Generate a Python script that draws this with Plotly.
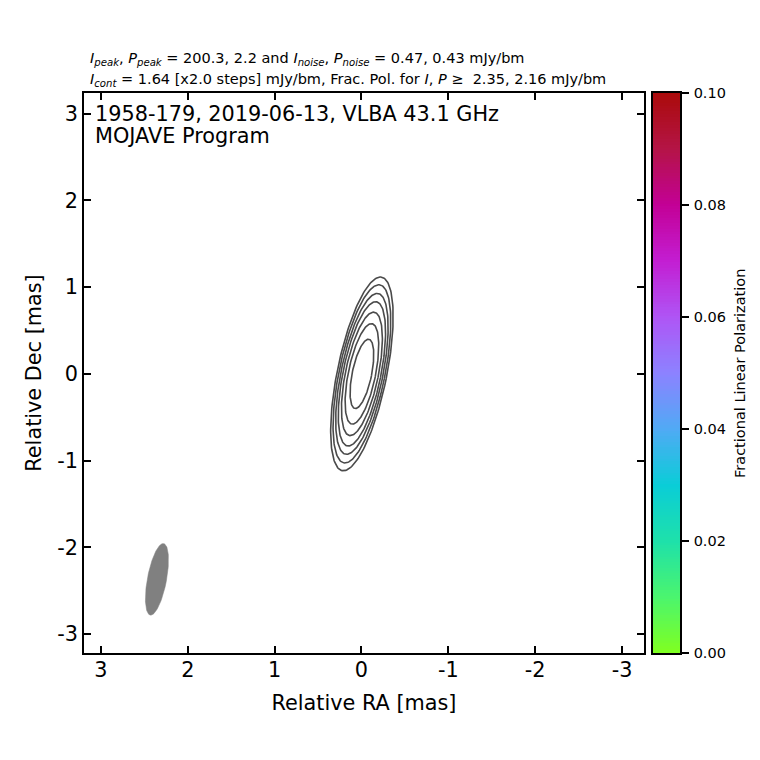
import numpy as np
import plotly.graph_objects as go

# contour half-heights and half-widths [mas], outer to inner
contour_half_heights = [1.119, 1.029, 0.929, 0.833, 0.713, 0.580, 0.400]
contour_minor_axes = [0.285, 0.264, 0.241, 0.218, 0.190, 0.157, 0.112]
contour_center = [-0.005, 0.0]
major_to_height = 1.018
contour_angle = 11.5

# restoring beam
beam_center = [2.355, -2.37]
beam_major = 0.42
beam_minor = 0.11
beam_angle = 10.6

tick_vals = [3, 2, 1, 0, -1, -2, -3]
tick_text = ['3', '2', '1', '0', '-1', '-2', '-3']
cbar_ticks = [0.0, 0.02, 0.04, 0.06, 0.08, 0.10]

cmap_stops = [0.0, 0.1, 0.2, 0.3, 0.4, 0.5, 0.6, 0.7, 0.8, 0.9, 1.0]
cmap_colors = ['#80ff20', '#4bf56e', '#1ee1aa', '#0acdd7', '#50aaf5', '#8c82ff',
               '#af55f5', '#c31ed2', '#c30096', '#b41446', '#aa0a0a']

header_1 = ('<i>I<sub>peak</sub></i>, <i>P<sub>peak</sub></i> = 200.3, 2.2 and '
            '<i>I<sub>noise</sub></i>, <i>P<sub>noise</sub></i> = 0.47, 0.43 mJy/bm')
header_2 = ('<i>I<sub>cont</sub></i> = 1.64 [x2.0 steps] mJy/bm, Frac. Pol. for '
            '<i>I</i>, <i>P</i> \u2265\u00a0 2.35, 2.16 mJy/bm')
source_lines = ['1958-179, 2019-06-13, VLBA 43.1 GHz', 'MOJAVE Program']
cbar_title = 'Fractional Linear Polarization'

FONT = 'DejaVu Sans'
BIG = 20.8
SMALL = 14.5

# pixel layout: plot area is 624 wide, starts at the main frame's left edge
AREA_W = 624.0
MAIN_W = 560.0


def ellipse(center, major, minor, angle):
    # angle measured from north, towards +RA being the plot's right side
    t = np.linspace(0, 2 * np.pi, 181)
    a = np.radians(angle)
    u = minor * np.cos(t)
    v = major * np.sin(t)
    x = center[0] - (u * np.cos(a) + v * np.sin(a))
    y = center[1] + (v * np.cos(a) - u * np.sin(a))
    return x, y


fig = go.Figure()

for h, minor in zip(contour_half_heights, contour_minor_axes):
    x, y = ellipse(contour_center, h * major_to_height, minor, contour_angle)
    fig.add_trace(go.Scatter(x=x, y=y, mode='lines', showlegend=False,
                             line=dict(color='#4a4a4a', width=1.6)))

bx, by = ellipse(beam_center, beam_major, beam_minor, beam_angle)
fig.add_trace(go.Scatter(x=bx, y=by, mode='lines', fill='toself', fillcolor='#808080',
                         line=dict(color='#808080', width=0.5), showlegend=False))

# colour ramp on its own axes, ticks and frame like the main panel
ramp = np.linspace(0, 0.1, 201)
fig.add_trace(go.Heatmap(x=[0, 1], y=ramp, z=np.column_stack([ramp, ramp]), xaxis='x2', yaxis='y2',
                         zmin=0, zmax=0.1, showscale=False, hoverinfo='skip',
                         colorscale=[[s, c] for s, c in zip(cmap_stops, cmap_colors)]))

axis_style = dict(tickvals=tick_vals, ticktext=tick_text, ticks='inside', ticklen=7, tickwidth=1.5,
                  tickcolor='black', showline=True, linecolor='black', linewidth=1.5, mirror='allticks',
                  showgrid=False, zeroline=False, tickfont=dict(family=FONT, size=BIG, color='black'))

annotations = [
    dict(text=header_1, xref='paper', yref='paper', x=3.5 / AREA_W, y=1.0, yshift=23, xanchor='left', yanchor='bottom',
         showarrow=False, font=dict(family=FONT, size=SMALL, color='black')),
    dict(text=header_2, xref='paper', yref='paper', x=3.5 / AREA_W, y=1.0, yshift=2, xanchor='left', yanchor='bottom',
         showarrow=False, font=dict(family=FONT, size=SMALL, color='black')),
    dict(text=cbar_title, xref='paper', yref='paper', x=656 / AREA_W, y=0.5, yshift=-1, textangle=-90,
         xanchor='center', yanchor='middle', showarrow=False, font=dict(family=FONT, size=SMALL, color='black')),
]
for line, shift in zip(source_lines, [-20.5, -42.5]):
    annotations.append(dict(text=line, xref='paper', yref='paper', x=9 / AREA_W, y=1.0, yshift=shift,
                            xanchor='left', yanchor='middle', align='left', showarrow=False,
                            font=dict(family=FONT, size=BIG, color='black')))

fig.update_layout(
    width=760, height=760, paper_bgcolor='white', plot_bgcolor='white',
    margin=dict(l=76, r=60, t=85, b=115), autosize=False,
    xaxis=dict(domain=[0, MAIN_W / AREA_W], range=[3.195, -3.253], ticklabelstandoff=-3,
               title=dict(text='Relative RA [mas]', standoff=15,
                          font=dict(family=FONT, size=BIG, color='black')), **axis_style),
    yaxis=dict(range=[-3.22, 3.24], title=dict(text='Relative Dec [mas]', standoff=10,
                                                font=dict(family=FONT, size=BIG, color='black')), **axis_style),
    xaxis2=dict(domain=[569 / AREA_W, 596 / AREA_W], range=[0, 1], anchor='y2', showticklabels=False, ticks='',
                showline=True, linecolor='black', linewidth=1.5, mirror=True, showgrid=False, zeroline=False),
    yaxis2=dict(domain=[0, 1], range=[0, 0.1], anchor='x2', side='right', tickvals=cbar_ticks, tickformat='.2f',
                ticks='outside', ticklen=7, tickwidth=1.5, tickcolor='black', ticklabelstandoff=2,
                showline=True, linecolor='black', linewidth=1.5, mirror=True, showgrid=False, zeroline=False,
                tickfont=dict(family=FONT, size=SMALL, color='black')),
    annotations=annotations,
)

fig.write_html("out.html")
